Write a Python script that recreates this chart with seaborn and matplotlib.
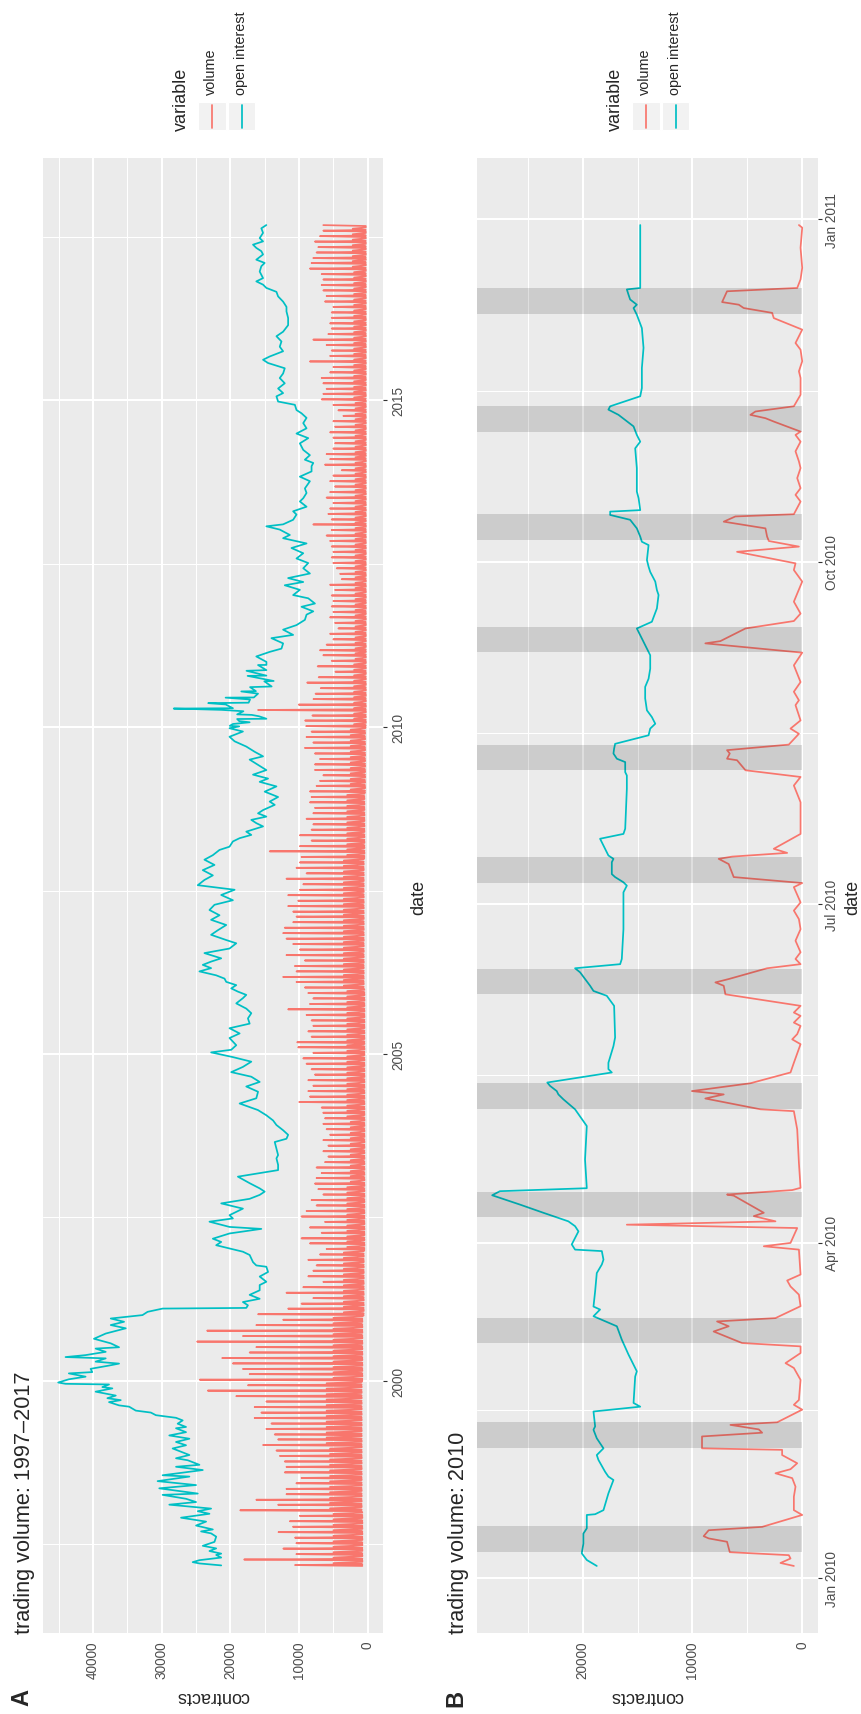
import numpy as np
import pandas as pd
import matplotlib
matplotlib.use('Agg')
import matplotlib.pyplot as plt
import matplotlib.dates as mdates
from matplotlib.patches import Rectangle
from matplotlib.lines import Line2D
import seaborn as sns

# ---------------- panel A : 1997-2017 ----------------
# open interest (decimal year, contracts)
oi_a_year = [
    1997.17, 1997.20, 1997.22, 1997.25, 1997.29, 1997.33, 1997.35, 1997.39, 1997.43, 1997.47,
    1997.53, 1997.61, 1997.66, 1997.69, 1997.72, 1997.78, 1997.84, 1997.90, 1997.96, 1998.00,
    1998.04, 1998.10, 1998.14, 1998.19, 1998.25, 1998.27, 1998.35, 1998.40, 1998.46, 1998.53,
    1998.55, 1998.63, 1998.68, 1998.71, 1998.78, 1998.81, 1998.86, 1998.96, 1999.01, 1999.06,
    1999.11, 1999.16, 1999.21, 1999.27, 1999.29, 1999.34, 1999.39, 1999.43, 1999.47, 1999.51,
    1999.54, 1999.60, 1999.62, 1999.67, 1999.70, 1999.73, 1999.77, 1999.83, 1999.88, 1999.90,
    1999.94, 1999.95, 1999.97, 2000.02, 2000.06, 2000.11, 2000.13, 2000.18, 2000.23, 2000.26,
    2000.29, 2000.34, 2000.36, 2000.39, 2000.44, 2000.49, 2000.51, 2000.57, 2000.64, 2000.72,
    2000.80, 2000.85, 2000.90, 2000.95, 2001.00, 2001.05, 2001.10, 2001.11, 2001.15, 2001.20,
    2001.25, 2001.31, 2001.38, 2001.46, 2001.51, 2001.59, 2001.66, 2001.74, 2001.76, 2001.81,
    2001.92, 2001.97, 2002.02, 2002.07, 2002.12, 2002.17, 2002.25, 2002.32, 2002.35, 2002.43,
    2002.48, 2002.53, 2002.63, 2002.71, 2002.78, 2002.84, 2002.89, 2002.94, 2003.02, 2003.12,
    2003.17, 2003.22, 2003.30, 2003.40, 2003.45, 2003.55, 2003.65, 2003.70, 2003.76, 2003.83,
    2003.91, 2003.98, 2004.06, 2004.14, 2004.24, 2004.32, 2004.42, 2004.50, 2004.57, 2004.65,
    2004.72, 2004.80, 2004.88, 2004.95, 2005.02, 2005.06, 2005.13, 2005.24, 2005.31, 2005.39,
    2005.46, 2005.54, 2005.62, 2005.69, 2005.77, 2005.85, 2005.90, 2005.95, 2006.00, 2006.05,
    2006.10, 2006.15, 2006.20, 2006.26, 2006.31, 2006.36, 2006.41, 2006.46, 2006.54, 2006.61,
    2006.69, 2006.74, 2006.82, 2006.89, 2006.97, 2007.05, 2007.12, 2007.20, 2007.28, 2007.35,
    2007.43, 2007.51, 2007.58, 2007.66, 2007.73, 2007.81, 2007.89, 2007.97, 2008.04, 2008.12,
    2008.17, 2008.25, 2008.30, 2008.35, 2008.40, 2008.48, 2008.53, 2008.58, 2008.63, 2008.68,
    2008.73, 2008.81, 2008.86, 2008.93, 2009.01, 2009.09, 2009.16, 2009.21, 2009.27, 2009.34,
    2009.42, 2009.50, 2009.55, 2009.62, 2009.70, 2009.78, 2009.85, 2009.93, 2009.98, 2010.009,
    2010.018, 2010.046, 2010.072, 2010.090, 2010.122, 2010.126, 2010.164, 2010.185, 2010.193, 2010.241,
    2010.262, 2010.282, 2010.287, 2010.345, 2010.365, 2010.372, 2010.421, 2010.449, 2010.452, 2010.510,
    2010.544, 2010.548, 2010.610, 2010.620, 2010.699, 2010.704, 2010.782, 2010.786, 2010.860, 2010.870,
    2010.948, 2010.950, 2010.996, 2011.08, 2011.15, 2011.20, 2011.28, 2011.36, 2011.41, 2011.49,
    2011.56, 2011.64, 2011.72, 2011.77, 2011.84, 2011.89, 2011.97, 2012.02, 2012.10, 2012.17,
    2012.22, 2012.28, 2012.35, 2012.43, 2012.51, 2012.58, 2012.66, 2012.74, 2012.81, 2012.89,
    2012.94, 2013.02, 2013.07, 2013.10, 2013.17, 2013.25, 2013.30, 2013.37, 2013.45, 2013.50,
    2013.58, 2013.65, 2013.76, 2013.83, 2013.91, 2013.99, 2014.04, 2014.09, 2014.16, 2014.24,
    2014.34, 2014.42, 2014.49, 2014.57, 2014.65, 2014.73, 2014.80, 2014.85, 2014.93, 2014.98,
    2015.06, 2015.11, 2015.18, 2015.26, 2015.34, 2015.41, 2015.49, 2015.57, 2015.62, 2015.67,
    2015.75, 2015.82, 2015.90, 2015.98, 2016.05, 2016.15, 2016.26, 2016.36, 2016.43, 2016.51,
    2016.59, 2016.66, 2016.72, 2016.77, 2016.82, 2016.87, 2016.97, 2017.05, 2017.10, 2017.15,
    2017.23, 2017.28, 2017.33, 2017.38, 2017.43, 2017.48, 2017.56, 2017.63, 2017.68,
]
oi_a_val = [
    21340, 24510, 25490, 24510, 21340, 22070, 21340, 23050, 22070, 24020,
    22320, 22070, 22810, 24270, 22560, 25000, 23540, 27190, 23050, 24750,
    22810, 28900, 25000, 26460, 29870, 24750, 30360, 25000, 30600, 25970,
    29870, 24020, 27920, 24510, 26220, 27920, 25970, 28410, 26460, 27920,
    25970, 28900, 26460, 27920, 26460, 27680, 26950, 27920, 30850, 31580,
    33770, 34740, 36210, 37670, 35960, 37910, 36690, 39620, 37180, 38640,
    37670, 44000, 45070, 43520, 41080, 43520, 40110, 40350, 37670, 36210,
    39620, 38150, 44000, 41080, 38150, 39620, 36210, 37420, 39860, 38150,
    35230, 37420, 35480, 37420, 32800, 32060, 29870, 17690, 17450, 18180,
    15740, 17200, 15740, 15740, 14770, 15740, 14520, 14770, 16230, 16710,
    17200, 18180, 20130, 22070, 21340, 22560, 20130, 15500, 20130, 23050,
    19640, 20130, 18180, 21340, 17200, 15740, 15010, 15740, 17200, 18910,
    15980, 13060, 13060, 13300, 13060, 13300, 13550, 11840, 11600, 12330,
    13300, 13790, 14770, 16000, 18660, 16230, 15980, 17690, 15740, 16960,
    19880, 18180, 16960, 19640, 22810, 19880, 19150, 20130, 18660, 20130,
    17200, 17450, 16960, 17690, 19150, 18180, 17690, 18910, 19880, 19150,
    20610, 20860, 22070, 24510, 22810, 24020, 22810, 21340, 23780, 20130,
    19150, 20610, 22810, 21830, 20610, 22810, 21590, 23050, 22320, 19640,
    21340, 19390, 24750, 23780, 22560, 24020, 22320, 23780, 22560, 21590,
    20130, 19640, 18660, 16960, 17690, 15250, 16230, 16960, 14770, 15980,
    15250, 13550, 14280, 13060, 15010, 13300, 15740, 14520, 16710, 14770,
    15980, 17200, 15250, 16470, 17690, 19390, 20130, 18180, 20130, 18720,
    20090, 19630, 17200, 18720, 19020, 14760, 15830, 16890, 19020, 18110,
    21310, 28250, 19630, 20700, 23230, 17350, 17140, 20700, 16590, 15980,
    18420, 16290, 17140, 14000, 15070, 13700, 17500, 14760, 17660, 14760,
    15980, 14760, 14760, 16230, 14280, 12570, 12330, 14030, 10870, 12330,
    10380, 9160, 8920, 7940, 9650, 7700, 8670, 10870, 9890, 12090,
    9400, 11600, 8430, 9400, 8670, 10380, 9400, 11110, 8920, 12330,
    11350, 12820, 14770, 12330, 10870, 10380, 10870, 8920, 9890, 9400,
    8920, 9160, 8430, 9890, 8190, 8190, 7940, 9160, 8430, 9400,
    9890, 8670, 10380, 8920, 9400, 8920, 9650, 10380, 10620, 13060,
    13300, 12330, 13060, 12090, 12820, 12330, 12090, 14520, 15250, 14280,
    12330, 12820, 12570, 13300, 12330, 11600, 11600, 11840, 11840, 12330,
    13060, 13300, 14770, 15250, 16230, 15250, 15740, 15500, 15010, 16230,
    15250, 15500, 16230, 16710, 15250, 15740, 15250, 15500, 14770,
]

# volume: roll-week peak of each month, Mar 1997 .. Sep 2017
vol_a_peak = [
    10600, 18000, 10400, 12300, 10400, 10600, 13000, 10900, 11350, 9900,
    18570, 13060, 16230, 11840, 11840, 10400, 9650, 12090, 11840, 12090, 12800, 13300,
    15250, 13060, 13550, 14770, 14030, 16470, 15500, 16470, 14770, 19150, 23290, 17450,
    24460, 17200, 18180, 19640, 21200, 17200, 16230, 24850, 18180, 23390, 16230, 12330,
    15980, 11600, 9650, 7940, 11840, 9400, 6480, 8670, 7940, 7460, 8670, 6970,
    6000, 8430, 9650, 6720, 8430, 6240, 9650, 8920, 7460, 8190, 6480, 7210,
    7700, 7460, 6720, 7460, 6240, 5750, 6480, 5750, 6480, 5500, 6000, 6480,
    6240, 6500, 6720, 9990, 8430, 8670, 7940, 8670, 7700, 8190, 8920, 9400,
    7940, 10140, 10280, 8190, 8670, 7940, 8190, 8920, 11600, 8430, 7940, 8670,
    9160, 10380, 12330, 10380, 10620, 9160, 11840, 9890, 10870, 11840, 12330, 12090,
    10870, 10380, 10870, 11600, 10140, 11600, 9890, 9400, 11840, 8920, 10380, 9890,
    9650, 14280, 9890, 8190, 9890, 8190, 7940, 8920, 7940, 7700, 8430, 8190,
    8430, 7460, 6970, 6480, 7700, 7700, 6970, 7700, 9160, 7940, 8920, 8190,
    8980, 9130, 8070, 15980, 10050, 7910, 7610, 6850, 8830, 7150, 4720, 7300,
    5260, 6480, 6970, 6000, 5020, 5500, 4290, 4780, 5500, 5020, 5260, 5020,
    5260, 4780, 5500, 3800, 4040, 4530, 5020, 5260, 5020, 5260, 5500, 6000,
    5260, 7940, 5260, 5750, 5500, 5020, 6000, 5500, 4780, 5500, 5020, 3800,
    6240, 5500, 6000, 5020, 4780, 5020, 5500, 4780, 5020, 3560, 4290, 5020,
    6720, 6480, 6000, 6480, 6720, 5500, 5020, 8430, 5500, 5260, 6000, 7940,
    5750, 5260, 5500, 5260, 5260, 5020, 6240, 6000, 6480, 6720, 6480, 6720,
    8430, 8190, 7940, 7460, 7210, 7700, 6970, 6480, 6480,
]
# between-roll bump and floor level, one per year 1997..2017
vol_a_bump = [5000, 5500, 6000, 5000, 3500, 3000, 2500, 3000, 3000, 3500, 3500,
              3000, 2500, 2000, 1800, 1800, 1800, 1800, 2000, 2000, 2200]
vol_a_floor = [800, 900, 900, 800, 600, 500, 500, 500, 500, 600, 600,
               500, 400, 300, 300, 300, 300, 300, 300, 300, 300]
# sampled days within each month: floor, peak, floor, bump, floor
vol_a_days = [0, 5, 9, 16, 23]

# ---------------- panel B : 2010 ----------------
# days since 2010-01-01
vol_b_day = [
    3.2, 4.0, 5.2, 6.1, 6.9, 9.7, 10.6, 11.2, 12.8, 13.7, 16.9, 18.2, 21.8, 24.5, 26.8, 28.1,
    29.2, 30.8, 33.0, 34.4, 34.8, 38.0, 39.0, 39.9, 41.1, 41.8, 45.2, 46.5, 47.8, 53.2, 56.4,
    57.7, 60.4, 62.2, 63.1, 66.2, 67.6, 68.9, 69.8, 73.0, 76.1, 78.3, 79.9, 81.5, 88.2, 89.1,
    90.0, 94.0, 94.9, 95.8, 97.2, 98.1, 102.7, 103.0, 104.2, 104.8, 111.5, 120.5, 125.4, 125.9,
    128.8, 129.9, 130.8, 132.9, 135.8, 138.4, 143.4, 144.7, 146.1, 148.3, 149.2, 151.0, 151.9,
    153.7, 156.8, 159.1, 160.0, 160.9, 163.8, 164.9, 166.3, 168.1, 171.2, 174.3, 177.0, 179.3,
    181.5, 185.6, 186.7, 188.3, 191.8, 193.2, 193.8, 194.8, 195.9, 199.9, 208.4, 212.9, 215.2,
    217.0, 219.7, 220.1, 221.5, 222.4, 223.9, 226.8, 228.2, 230.4, 234.5, 235.8, 238.1, 240.7,
    245.2, 248.6, 251.1, 251.7, 255.1, 257.1, 259.1, 262.3, 267.7, 270.8, 272.6, 275.7, 277.1,
    278.6, 279.8, 282.0, 283.8, 285.2, 285.8, 289.2, 291.0, 292.8, 295.5, 298.2, 300.0, 302.7,
    305.3, 307.1, 308.0, 310.7, 311.6, 312.5, 313.4, 314.8, 317.9, 322.4, 324.2, 326.9, 330.0,
    331.8, 335.4, 338.5, 339.9, 341.2, 342.1, 342.8, 345.7, 346.6, 348.9, 352.0, 357.4, 362.8,
    363.5,
]
vol_b_val = [
    760, 1980, 1065, 1220, 6600, 6850, 8520, 8980, 8520, 3650, 0, 760, 760, 610, 910, 2435,
    1065, 455, 1830, 1830, 9130, 9130, 3650, 3960, 6540, 2280, 0, 760, 300, 150, 760,
    1520, 150, 150, 5480, 8070, 6700, 7760, 2435, 150, 300, 1065, 1370, 150, 300, 3500,
    1065, 455, 15980, 2435, 4410, 3500, 6240, 6850, 910, 150, 300, 455, 760, 3800,
    8830, 7150, 10050, 4720, 1065, 760, 150, 910, 455, 150, 760, 150, 760,
    150, 7000, 7150, 7910, 6700, 3200, 150, 610, 150, 610, 150, 300, 760,
    150, 760, 0, 6240, 6700, 7610, 6390, 1370, 2590, 150, 150, 760, 150,
    5170, 5940, 6850, 6600, 6850, 1220, 300, 1065, 150, 610, 300, 760, 150,
    760, 0, 8830, 7460, 5170, 760, 150, 760, 0, 760, 610, 5940, 300,
    3040, 3200, 3350, 7150, 6090, 760, 150, 610, 150, 455, 150, 300, 610,
    150, 610, 150, 2590, 3350, 4720, 4260, 760, 150, 150, 300, 0, 150,
    610, 0, 2590, 2740, 5330, 5780, 7300, 6850, 455, 150, 0, 150, 0,
    300,
]
oi_b_day = [
    3.2, 4.8, 6.6, 9.2, 11.9, 13.3, 16.9, 17.1, 18.2, 22.7, 26.3, 27.2, 28.5, 31.7, 33.0,
    34.8, 37.5, 39.8, 40.7, 44.7, 46.0, 47.0, 54.1, 55.5, 60.0, 64.0, 67.6, 70.3, 72.1, 72.9,
    77.0, 81.9, 84.2, 85.5, 87.8, 88.2, 89.6, 93.1, 94.5, 95.8, 98.1, 100.3, 102.4, 102.8,
    103.9, 104.7, 112.4, 121.4, 125.9, 128.6, 129.9, 130.8, 132.2, 133.1, 135.8, 136.7, 138.4,
    142.9, 145.2, 153.7, 156.4, 157.7, 159.1, 160.9, 162.7, 163.8, 164.9, 166.3, 174.3, 180.6,
    184.2, 186.0, 186.9, 188.3, 189.1, 192.3, 193.2, 194.1, 195.9, 198.6, 199.9, 201.3, 212.0,
    215.6, 216.5, 219.2, 220.1, 221.5, 222.8, 224.1, 226.4, 228.2, 229.5, 231.3, 233.1, 236.3,
    239.4, 241.6, 244.3, 247.9, 249.7, 252.4, 255.1, 256.9, 260.5, 264.1, 265.4, 267.7, 270.3,
    271.7, 273.5, 277.5, 278.4, 279.8, 282.0, 284.3, 285.6, 286.5, 286.9, 290.1, 291.9, 298.2,
    303.5, 305.3, 307.1, 309.4, 312.5, 313.9, 314.8, 317.5, 319.7, 325.1, 330.5, 335.8, 339.4,
    341.2, 342.1, 343.5, 344.8, 346.2, 346.6, 348.4, 357.4, 363.5,
]
oi_b_val = [
    18720, 19630, 20090, 19940, 19940, 19630, 19630, 18870, 18110, 17660, 17200, 17660, 17960, 18570, 18720,
    18110, 18720, 19020, 18870, 19020, 14760, 15370, 15220, 15070, 15830, 16440, 16890, 19020, 18420, 19020,
    18870, 18720, 18260, 18110, 18260, 20700, 21000, 20390, 20700, 21310, 23590, 25720, 27850, 28250,
    27550, 19630, 19790, 19630, 20700, 21770, 22220, 22370, 22980, 23230, 17350, 17660, 17660,
    17200, 17050, 17140, 17810, 19020, 19330, 19790, 20240, 20700, 16590, 16440, 16290, 16290,
    16290, 15980, 16290, 17050, 17350, 17350, 17200, 17660, 17960, 18420, 16290, 16130, 15980,
    15980, 16130, 16130, 16890, 17200, 17140, 17050, 14000, 13850, 13390, 13700, 14150, 14310,
    14310, 14000, 13850, 13850, 14150, 14610, 15070, 13700, 13240, 13090, 13240, 13390, 13850,
    14000, 14150, 14000, 14610, 14760, 15070, 15680, 17500, 17500, 14760, 14910, 15070, 15070,
    15220, 14760, 15070, 15370, 16740, 17660, 17500, 14760, 14610, 14610, 14460, 14610, 15070,
    15370, 15070, 15680, 15830, 15980, 14760, 14760, 14760, 14760,
]
# roll windows shaded in panel B (days since 2010-01-01)
roll_start = [6.9, 35.0, 63.0, 96.9, 125.9, 156.9, 186.8, 217.0, 248.7, 278.9, 307.9, 339.7]
roll_end = [13.9, 41.9, 69.8, 103.7, 132.9, 163.7, 193.6, 223.9, 255.6, 285.8, 314.8, 346.6]

series = ['volume', 'open interest']
colors = ['#F8766D', '#00BFC4']


def dec2date(y):
    yr = int(y)
    return pd.Timestamp(yr, 1, 1) + pd.Timedelta(days=(y - yr) * 365.25)


# long-form frames
oi_a = pd.DataFrame({'date': [dec2date(y) for y in oi_a_year], 'contracts': oi_a_val,
                     'variable': 'open interest'})
months = pd.date_range('1997-03-01', periods=len(vol_a_peak), freq='MS')
rows = []
for m, pk in zip(months, vol_a_peak):
    k = m.year - 1997
    vals = [vol_a_floor[k], pk, vol_a_floor[k], vol_a_bump[k], vol_a_floor[k]]
    for d, v in zip(vol_a_days, vals):
        rows.append((m + pd.Timedelta(days=d), v))
vol_a = pd.DataFrame(rows, columns=['date', 'contracts'])
vol_a = vol_a[vol_a['date'] <= oi_a['date'].max()]
vol_a['variable'] = 'volume'
df_a = pd.concat([vol_a, oi_a], ignore_index=True)

t0 = pd.Timestamp('2010-01-01')
vol_b = pd.DataFrame({'date': t0 + pd.to_timedelta(vol_b_day, unit='D'), 'contracts': vol_b_val,
                      'variable': 'volume'})
oi_b = pd.DataFrame({'date': t0 + pd.to_timedelta(oi_b_day, unit='D'), 'contracts': oi_b_val,
                     'variable': 'open interest'})
df_b = pd.concat([vol_b, oi_b], ignore_index=True)

# ---------------- figure ----------------
sns.set_theme(style='darkgrid')
plt.rcParams['font.family'] = ['Liberation Sans', 'DejaVu Sans']

W, H = 862, 1715
fig = plt.figure(figsize=(W / 100, H / 100), dpi=100)
fig.patch.set_facecolor('white')


def fx(x):
    return x / W


def fy(y):
    return 1 - y / H


top, bot = 159, 1634
axA = fig.add_axes([fx(42.7), fy(bot), (383.3 - 42.7) / W, (bot - top) / H])
axB = fig.add_axes([fx(476.7), fy(bot), (817.7 - 476.7) / W, (bot - top) / H])

for ax, df in [(axA, df_a), (axB, df_b)]:
    sns.lineplot(data=df, x='contracts', y='date', hue='variable', hue_order=series,
                 palette=colors, estimator=None, sort=False, orient='y',
                 linewidth=1.25, legend=False, ax=ax)

# roll windows drawn over the lines
for s, e in zip(roll_start, roll_end):
    axB.fill_betweenx([t0 + pd.Timedelta(days=s), t0 + pd.Timedelta(days=e)], 0, 1e6,
                      color='black', alpha=0.13, lw=0, zorder=3)


def style(ax, df, major_dates, minor_dates, fmt):
    ax.set_facecolor('#EBEBEB')
    for s in ax.spines.values():
        s.set_visible(False)
    vmax = df['contracts'].max()
    ax.set_xlim(1.05 * vmax, -0.05 * vmax)
    dmin, dmax = df['date'].min(), df['date'].max()
    span = dmax - dmin
    ax.set_ylim(mdates.date2num(dmin - 0.05 * span), mdates.date2num(dmax + 0.05 * span))
    majors = np.arange(0, 1.05 * vmax, 10000)
    minors = np.arange(5000, 1.05 * vmax, 10000)
    ax.set_xticks(majors, labels=[f'{v:.0f}' for v in majors], rotation=90)
    ax.set_xticks(minors, minor=True)
    ax.yaxis.tick_right()
    ax.set_yticks(mdates.date2num(major_dates),
                  labels=[d.strftime(fmt) for d in major_dates], rotation=90, va='center')
    ax.set_yticks(mdates.date2num(minor_dates), minor=True)
    ax.tick_params(which='major', length=3, width=0.8, color='#333333',
                   labelcolor='#4D4D4D', labelsize=9.8, pad=2.5)
    ax.tick_params(which='minor', length=0)
    ax.grid(True, which='major', color='white', linewidth=1.45)
    ax.grid(True, which='minor', color='white', linewidth=0.75)
    ax.set_axisbelow(True)
    ax.set_xlabel('')
    ax.set_ylabel('')


style(axA, df_a,
      [pd.Timestamp(f'{y}-01-01') for y in (2000, 2005, 2010, 2015)],
      [pd.Timestamp(f'{y}-07-02') for y in (1997, 2002, 2007, 2012, 2017)], '%Y')
style(axB, df_b,
      [pd.Timestamp(d) for d in ('2010-01-01', '2010-04-01', '2010-07-01', '2010-10-01', '2011-01-01')],
      [pd.Timestamp(d) for d in ('2010-02-15', '2010-05-16', '2010-08-16', '2010-11-16')], '%b %Y')

# titles, axis titles, panel tags
for dx, title, tag in [(0, 'trading volume: 1997\u20132017', 'A'), (434, 'trading volume: 2010', 'B')]:
    fig.text(fx(25 + dx), fy(bot), title, rotation=90, ha='center', va='bottom', fontsize=15.6)
    fig.text(fx(21.5 + dx), fy(1698), tag, rotation=90, ha='center', va='center',
             fontsize=17, fontweight='bold')
    fig.text(fx(213 + dx), fy(1697), 'contracts', rotation=180, ha='center', va='center', fontsize=13)
    fig.text(fx(419 + dx), fy(897), 'date', rotation=90, ha='center', va='center', fontsize=13)

    # legend
    fig.text(fx(181 + dx), fy(131), 'variable', rotation=90, ha='center', va='bottom', fontsize=13)
    for i, (name, c) in enumerate(zip(series, colors)):
        x0 = 198.3 + dx + i * 29.4
        fig.add_artist(Rectangle((fx(x0), fy(130.7)), 27.7 / W, 27.4 / H, transform=fig.transFigure,
                                 facecolor='#F2F2F2', edgecolor='white', lw=0.8))
        xc = x0 + 13.85
        fig.add_artist(Line2D([fx(xc), fx(xc)], [fy(128.5), fy(105.5)], transform=fig.transFigure,
                              color=c, lw=1.25))
        fig.text(fx(xc - 1), fy(95), name, rotation=90, ha='center', va='bottom', fontsize=10.4)

fig.savefig('out.png', dpi=100)
